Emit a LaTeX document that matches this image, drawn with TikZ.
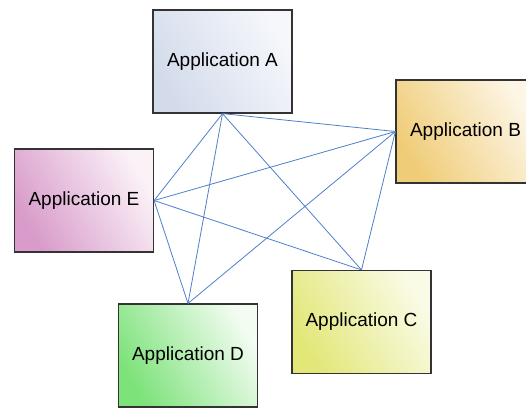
\documentclass[tikz,border=0pt]{standalone}
\usepackage{fontspec}
\setmainfont{Liberation Sans}
\definecolor{lineblue}{HTML}{4F7FCB}
\definecolor{boxedge}{HTML}{333333}
\definecolor{aL}{HTML}{D3DBEB}\definecolor{aR}{HTML}{F5F7FB}
\definecolor{bL}{HTML}{EFCC77}\definecolor{bR}{HTML}{FDF6E6}
\definecolor{eL}{HTML}{D89BCA}\definecolor{eR}{HTML}{FBF2F8}
\definecolor{dL}{HTML}{7DE27A}\definecolor{dR}{HTML}{F2FCF1}
\definecolor{cL}{HTML}{E2E778}\definecolor{cR}{HTML}{FAFBE6}
\tikzset{
  appbox/.style={draw=boxedge, line width=1.2pt, minimum width=139pt, minimum height=103pt,
    inner sep=0pt, font=\fontsize{19}{22}\selectfont, text=black},
  link/.style={draw=lineblue, line width=0.8pt}
}
\begin{document}
\begin{tikzpicture}[x=1pt,y=-1pt]
\useasboundingbox (0,0) rectangle (526,407);
\begin{scope}
\clip (0,0) rectangle (526,407);
\node[appbox, left color=aL, right color=aR, shading angle=120] (A) at (222.5,61.5) {Application A};
\node[appbox, left color=bL, right color=bR, shading angle=120] (B) at (465.5,131.5) {Application B};
\node[appbox, left color=eL, right color=eR, shading angle=120] (E) at (84,200.5) {Application E};
\node[appbox, left color=dL, right color=dR, shading angle=120] (D) at (188,355.5) {Application D};
\node[appbox, left color=cL, right color=cR, shading angle=120] (C) at (361.5,322) {Application C};
\end{scope}
\draw[link] (A.south) -- (B.west);
\draw[link] (A.south) -- (E.east);
\draw[link] (A.south) -- (D.north);
\draw[link] (A.south) -- (C.north);
\draw[link] (B.west) -- (E.east);
\draw[link] (B.west) -- (D.north);
\draw[link] (B.west) -- (C.north);
\draw[link] (E.east) -- (D.north);
\draw[link] (E.east) -- (C.north);
\end{tikzpicture}
\end{document}
